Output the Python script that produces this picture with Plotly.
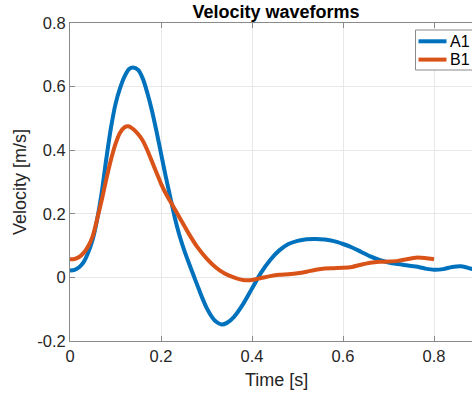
import plotly.graph_objects as go

# Sampled velocity waveforms (time in s, velocity in m/s)
t_a1 = [0.0, 0.01, 0.02, 0.03, 0.04, 0.05, 0.06, 0.07, 0.08, 0.09, 0.10, 0.11,
        0.12, 0.13, 0.138, 0.15, 0.16, 0.17, 0.18, 0.19, 0.20, 0.21, 0.22, 0.23,
        0.24, 0.25, 0.26, 0.27, 0.28, 0.29, 0.30, 0.31, 0.32, 0.333, 0.345, 0.36,
        0.38, 0.40, 0.42, 0.44, 0.46, 0.48, 0.50, 0.52, 0.54, 0.56, 0.58, 0.60,
        0.62, 0.64, 0.66, 0.68, 0.70, 0.72, 0.74, 0.76, 0.78, 0.80, 0.82, 0.84,
        0.86, 0.88, 0.90]
v_a1 = [0.022, 0.024, 0.032, 0.048, 0.078, 0.12, 0.185, 0.27, 0.375, 0.47, 0.545, 0.595,
        0.632, 0.655, 0.66, 0.652, 0.625, 0.58, 0.525, 0.46, 0.39, 0.32, 0.255, 0.19,
        0.135, 0.09, 0.05, 0.012, -0.025, -0.062, -0.095, -0.12, -0.138, -0.148, -0.143, -0.125,
        -0.085, -0.035, 0.015, 0.055, 0.085, 0.105, 0.115, 0.12, 0.121, 0.119, 0.114, 0.105,
        0.094, 0.08, 0.066, 0.055, 0.047, 0.042, 0.038, 0.034, 0.028, 0.024, 0.026, 0.033,
        0.035, 0.028, 0.02]

t_b1 = [0.0, 0.01, 0.02, 0.03, 0.04, 0.05, 0.06, 0.07, 0.08, 0.09, 0.10, 0.11,
        0.12, 0.128, 0.14, 0.15, 0.16, 0.17, 0.18, 0.19, 0.20, 0.21, 0.22, 0.23,
        0.24, 0.26, 0.28, 0.30, 0.32, 0.34, 0.36, 0.38, 0.40, 0.42, 0.44, 0.46,
        0.48, 0.50, 0.52, 0.54, 0.56, 0.58, 0.60, 0.62, 0.64, 0.66, 0.68, 0.70,
        0.72, 0.74, 0.76, 0.78, 0.80]
v_b1 = [0.057, 0.058, 0.064, 0.077, 0.098, 0.13, 0.185, 0.245, 0.31, 0.37, 0.42, 0.455,
        0.472, 0.475, 0.465, 0.45, 0.43, 0.40, 0.365, 0.33, 0.295, 0.265, 0.24, 0.215,
        0.19, 0.14, 0.095, 0.06, 0.032, 0.012, 0.0, -0.008, -0.008, -0.002, 0.004, 0.008,
        0.01, 0.013, 0.018, 0.024, 0.028, 0.029, 0.03, 0.033, 0.04, 0.046, 0.049, 0.05,
        0.052, 0.057, 0.062, 0.061, 0.057]

series_names = ["A1", "B1"]
series_colors = ["#0072BD", "#D95319"]

x_ticks = [0, 0.2, 0.4, 0.6, 0.8]
x_ticklabels = ["0", "0.2", "0.4", "0.6", "0.8"]
y_ticks = [-0.2, 0, 0.2, 0.4, 0.6, 0.8]
y_ticklabels = ["-0.2", "0", "0.2", "0.4", "0.6", "0.8"]

FONT = "Liberation Sans, Arial, Helvetica, sans-serif"
TXT = "#262626"
AX = "#8a8a8a"
GRID = "#e8e8e8"

# axes box: left 70, top 23, bottom 341; right edge runs off the page
L, T, B = 70, 23, 341
W, H = 472, 396
PW = W - L
PH = B - T
XC = (276 - L) / PW  # horizontal centre of the full axes box


def px_x(px):
    return (px - L) / PW


def px_y(py):
    return (B - py) / PH


fig = go.Figure()
for t, v, name, color in [(t_a1, v_a1, series_names[0], series_colors[0]),
                          (t_b1, v_b1, series_names[1], series_colors[1])]:
    fig.add_trace(go.Scatter(x=t, y=v, mode="lines", name=name, showlegend=False,
                             line=dict(color=color, width=4, shape="spline", smoothing=0.8)))

# boxed legend in the upper-right corner (runs past the right edge of the page)
shapes = [dict(type="rect", xref="paper", yref="paper",
               x0=px_x(415.5), x1=px_x(500), y0=px_y(70), y1=px_y(30),
               line=dict(color=AX, width=1), fillcolor="white", layer="above")]
annotations = []
for i, (name, color) in enumerate(zip(series_names, series_colors)):
    row_y = 41.3 + i * 18.3
    shapes.append(dict(type="line", xref="paper", yref="paper",
                       x0=px_x(418.5), x1=px_x(446.5), y0=px_y(row_y), y1=px_y(row_y),
                       line=dict(color=color, width=4), layer="above"))
    annotations.append(dict(text=name, xref="paper", yref="paper",
                            x=px_x(447.5), y=px_y(row_y), xanchor="left", yanchor="middle",
                            showarrow=False, font=dict(family=FONT, size=16, color="black")))

annotations.append(dict(text="Time [s]", x=XC, xref="paper", y=-(380 - B) / PH, yref="paper",
                        xanchor="center", yanchor="middle", showarrow=False,
                        font=dict(family=FONT, size=18, color=TXT)))

fig.update_layout(
    width=W, height=H,
    margin=dict(l=L, r=0, t=T, b=H - B, autoexpand=False),
    paper_bgcolor="white", plot_bgcolor="white",
    font=dict(family=FONT, size=16.5, color=TXT),
    title=dict(text="<b>Velocity waveforms</b>", x=XC, xref="paper",
               xanchor="center", y=1 - 11.5 / H, yanchor="middle",
               font=dict(family=FONT, size=18, color="black")),
    showlegend=False,
    shapes=shapes,
    annotations=annotations,
)

fig.update_xaxes(range=[0, 0.8835], tickvals=x_ticks, ticktext=x_ticklabels,
                 showgrid=True, gridcolor=GRID, gridwidth=1, zeroline=False,
                 showline=True, linecolor=AX, linewidth=1, mirror="ticks",
                 ticks="inside", ticklen=5, tickcolor=AX,
                 tickfont=dict(family=FONT, size=16.5, color=TXT))
fig.update_yaxes(range=[-0.2, 0.8], tickvals=y_ticks, ticktext=y_ticklabels,
                 showgrid=True, gridcolor=GRID, gridwidth=1, zeroline=False,
                 showline=True, linecolor=AX, linewidth=1, mirror=False,
                 ticks="inside", ticklen=5, tickcolor=AX,
                 tickfont=dict(family=FONT, size=16.5, color=TXT),
                 title=dict(text="Velocity [m/s]", standoff=5,
                            font=dict(family=FONT, size=18, color=TXT)))

fig.write_html("out.html")
